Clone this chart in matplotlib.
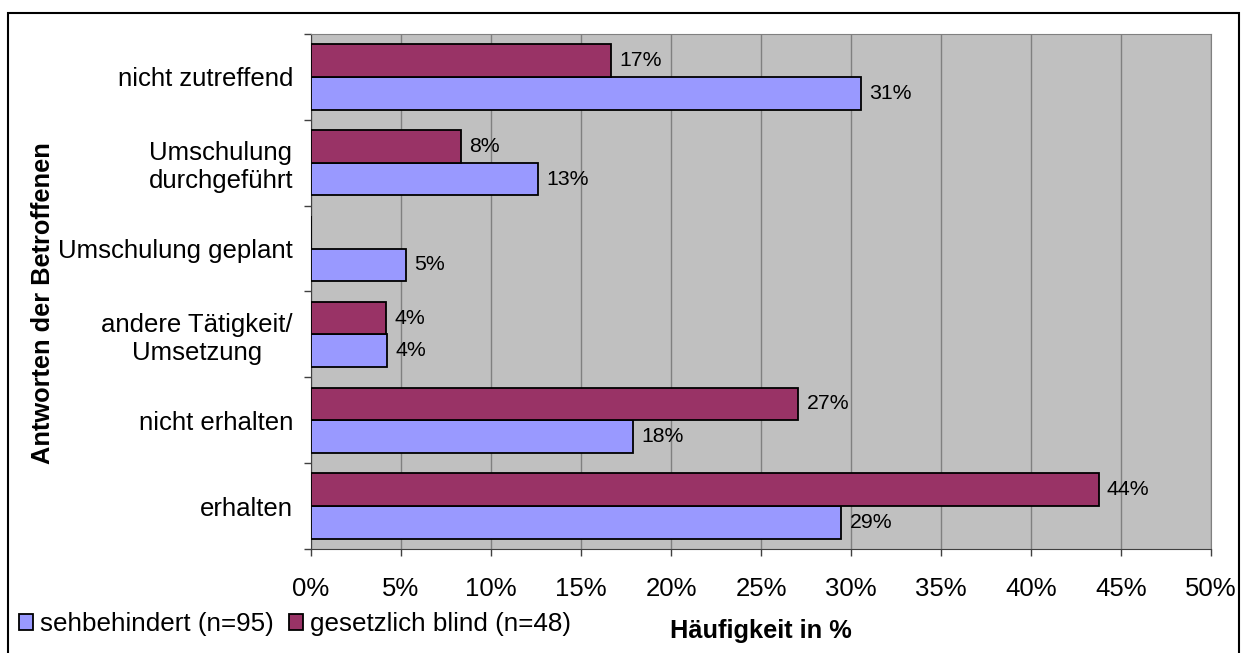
import numpy as np
import matplotlib
matplotlib.use("Agg")
import matplotlib.pyplot as plt
from matplotlib.patches import Rectangle
from matplotlib.ticker import FuncFormatter

plt.rcParams['font.family'] = ['Liberation Sans', 'DejaVu Sans']

# categories from top to bottom
categories = ['nicht zutreffend', 'Umschulung\ndurchgeführt', 'Umschulung geplant',
              'andere Tätigkeit/\nUmsetzung', 'nicht erhalten', 'erhalten']
# answers as share of respondents in %
sehbehindert = [30.53, 12.63, 5.26, 4.21, 17.89, 29.47]
blind = [16.67, 8.33, 0.0, 4.17, 27.08, 43.75]
series_names = ['sehbehindert (n=95)', 'gesetzlich blind (n=48)']

fig = plt.figure(figsize=(12.45, 6.53), dpi=100)
ax = fig.add_axes([0.2498, 0.1593, 0.7229, 0.7886])
ax.set_facecolor('#C0C0C0')

n = len(categories)
y = np.arange(n)
h = 0.38
b1 = ax.barh(y + h / 2, sehbehindert, height=h, color='#9999FF', edgecolor='black',
             linewidth=1.3, label=series_names[0], zorder=3)
b2 = ax.barh(y - h / 2, blind, height=h, color='#993366', edgecolor='black',
             linewidth=1.3, label=series_names[1], zorder=3)

for bars, vals in ((b1, sehbehindert), (b2, blind)):
    for bar, v in zip(bars, vals):
        if v <= 0:
            continue
        ax.annotate('%.0f%%' % v, (v, bar.get_y() + bar.get_height() / 2),
                    xytext=(6, 0), textcoords='offset points',
                    va='center', ha='left', fontsize=15.3, zorder=4)

ax.set_xlim(0, 50)
ax.set_ylim(n - 0.5, -0.5)
ax.set_xticks(np.arange(0, 51, 5))
ax.xaxis.set_major_formatter(FuncFormatter(lambda v, p: '%d%%' % v))
ax.grid(axis='x', color='#808080', linewidth=1, zorder=1)
ax.tick_params(axis='x', length=5, width=1, pad=15, labelsize=18.5, color='#404040')

# ticks at category boundaries, labels at the centres
ax.set_yticks(np.arange(-0.5, n, 1))
ax.set_yticklabels([])
ax.set_yticks(y, minor=True)
ax.set_yticklabels(categories, minor=True, fontsize=18.5, multialignment='center')
ax.tick_params(axis='y', which='major', length=5, width=1, color='#404040')
ax.tick_params(axis='y', which='minor', length=0, pad=13)

for s in ('top', 'right'):
    ax.spines[s].set_color('#808080')
for s in ('left', 'bottom'):
    ax.spines[s].set_color('#404040')

fig.text(43 / 1245, 1 - 303 / 653, 'Antworten der Betroffenen', fontsize=18.3,
         fontweight='bold', rotation=90, ha='center', va='center')
fig.text(761 / 1245, 1 - 631 / 653, 'Häufigkeit in %', fontsize=18.3,
         fontweight='bold', ha='center', va='center')

fig.legend(handles=[b1, b2], loc='center left', bbox_to_anchor=(19 / 1245, 1 - 624 / 653),
           ncol=2, frameon=False, fontsize=18.7, handlelength=0.55, handleheight=0.55,
           handletextpad=0.25, columnspacing=0.6, borderaxespad=0, borderpad=0)

fig.patches.append(Rectangle((8 / 1245, -0.05), 1231 / 1245, 1.05 - 13 / 653,
                             transform=fig.transFigure, fill=False,
                             edgecolor='black', linewidth=1.5))

fig.savefig('out.png', dpi=100)
